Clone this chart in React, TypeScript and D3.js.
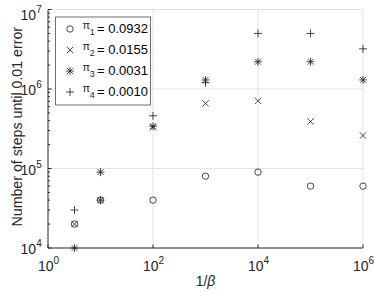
import React, { useEffect, useRef } from "react";
import * as d3 from "d3";

// 1/beta positions of the seven runs
const invBeta = [3.2, 10, 100, 1000, 10000, 100000, 1000000];

// number of steps until 0.01 error, one array per pi value
const steps1 = [2e4, 4e4, 4e4, 8e4, 9e4, 6e4, 6e4];
const steps2 = [2e4, 4e4, 3.3e5, 6.6e5, 7.1e5, 3.9e5, 2.6e5];
const steps3 = [1e4, 9e4, 3.4e5, 1.3e6, 2.2e6, 2.2e6, 1.3e6];
const steps4 = [3e4, 4e4, 4.6e5, 1.2e6, 5e6, 5e6, 3.2e6];

const piIndex = ["1", "2", "3", "4"];
const piValues = ["0.0932", "0.0155", "0.0031", "0.0010"];
const markers = ["circle", "cross", "star", "plus"];

const xTicks = [1, 1e2, 1e4, 1e6];
const xTickExp = ["0", "2", "4", "6"];
const yTicks = [1e4, 1e5, 1e6, 1e7];
const yTickExp = ["4", "5", "6", "7"];

const FONT = "'Liberation Sans', Arial, Helvetica, sans-serif";
const AXIS = "#262626";

// marker path centred on 0,0
const markerPath = (type: string) => {
  const p = d3.path();
  if (type === "circle") {
    p.arc(0, 0, 3.2, 0, Math.PI * 2);
  }
  if (type === "cross" || type === "star") {
    const s = type === "star" ? 2.9 : 3.2;
    p.moveTo(-s, -s); p.lineTo(s, s);
    p.moveTo(-s, s); p.lineTo(s, -s);
  }
  if (type === "plus" || type === "star") {
    const s = 4;
    p.moveTo(-s, 0); p.lineTo(s, 0);
    p.moveTo(0, -s); p.lineTo(0, s);
  }
  return p.toString();
};

const App = () => {
  const ref = useRef<SVGSVGElement>(null);

  useEffect(() => {
    const svg = d3.select(ref.current);
    svg.selectAll("*").remove();

    const x = d3.scaleLog().domain([1, 1e6]).range([48, 363]);
    const y = d3.scaleLog().domain([1e4, 1e7]).range([248, 9.5]);
    const [x0, x1] = x.range();
    const [y0, y1] = y.range();

    // grid
    const grid = svg.append("g").attr("stroke", "#e3e3e3").attr("stroke-width", 1);
    xTicks.slice(1).forEach((t) => {
      grid.append("line").attr("x1", x(t)).attr("x2", x(t)).attr("y1", y0).attr("y2", y1);
    });
    yTicks.slice(1).forEach((t) => {
      grid.append("line").attr("x1", x0).attr("x2", x1).attr("y1", y(t)).attr("y2", y(t));
    });

    // axes lines and ticks
    const ax = svg.append("g").attr("stroke", AXIS).attr("stroke-width", 1);
    ax.append("line").attr("x1", x0).attr("x2", x0).attr("y1", y0).attr("y2", y1);
    ax.append("line").attr("x1", x0).attr("x2", x1).attr("y1", y0).attr("y2", y0);
    xTicks.forEach((t) => {
      ax.append("line").attr("x1", x(t)).attr("x2", x(t)).attr("y1", y0).attr("y2", y0 - 3.5);
    });
    y.ticks().forEach((t) => {
      const major = yTicks.includes(t);
      ax.append("line").attr("x1", x0).attr("x2", x0 + (major ? 3.5 : 2)).attr("y1", y(t)).attr("y2", y(t));
    });

    // tick labels
    xTicks.forEach((t, i) => {
      const tx = svg.append("text")
        .attr("x", x(t) - 10)
        .attr("y", 270.5)
        .attr("font-family", FONT)
        .attr("font-size", 14)
        .attr("fill", AXIS);
      tx.append("tspan").text("10");
      tx.append("tspan").attr("font-size", 10).attr("dy", -7).text(xTickExp[i]);
    });
    yTicks.forEach((t, i) => {
      const cy = Math.max(y(t) + 1, 14.5);
      const tx = svg.append("text")
        .attr("x", 41.7)
        .attr("y", cy + 5)
        .attr("text-anchor", "end")
        .attr("font-family", FONT)
        .attr("font-size", 14)
        .attr("fill", AXIS);
      tx.append("tspan").text("10");
      tx.append("tspan").attr("font-size", 10).attr("dy", -7).text(yTickExp[i]);
    });

    // axis titles
    const xl = svg.append("text")
      .attr("x", (x0 + x1) / 2)
      .attr("y", 286)
      .attr("text-anchor", "middle")
      .attr("font-family", FONT)
      .attr("font-size", 14)
      .attr("fill", AXIS);
    xl.append("tspan").text("1/");
    xl.append("tspan").attr("font-style", "italic").text("β");

    svg.append("text")
      .attr("transform", `translate(21.5,${(y0 + y1) / 2 - 2}) rotate(-90)`)
      .attr("text-anchor", "middle")
      .attr("font-family", FONT)
      .attr("font-size", 14.2)
      .attr("fill", AXIS)
      .text("Number of steps until 0.01 error");

    // data points
    const series = [steps1, steps2, steps3, steps4];
    series.forEach((vals, si) => {
      svg.append("g")
        .selectAll("path")
        .data(vals)
        .enter()
        .append("path")
        .attr("transform", (d, i) => `translate(${x(invBeta[i])},${y(d)})`)
        .attr("d", markerPath(markers[si]))
        .attr("fill", "none")
        .attr("stroke", "#1a1a1a")
        .attr("stroke-width", 0.8);
    });

    // legend
    const lg = svg.append("g");
    lg.append("rect")
      .attr("x", 55.5).attr("y", 17)
      .attr("width", 95).attr("height", 88)
      .attr("fill", "#fff")
      .attr("stroke", "#6e6e6e")
      .attr("stroke-width", 1);
    piValues.forEach((v, i) => {
      const ry = 29 + i * 21;
      lg.append("path")
        .attr("transform", `translate(70,${ry})`)
        .attr("d", markerPath(markers[i]))
        .attr("fill", "none")
        .attr("stroke", "#1a1a1a")
        .attr("stroke-width", 0.8);
      lg.append("text")
        .attr("x", 82.5).attr("y", ry - 0.5)
        .attr("font-family", FONT).attr("font-size", 11).attr("fill", AXIS)
        .text("π");
      lg.append("text")
        .attr("x", 89.8).attr("y", ry + 6)
        .attr("font-family", FONT).attr("font-size", 9).attr("fill", AXIS)
        .text(piIndex[i]);
      lg.append("text")
        .attr("x", 97).attr("y", ry + 3.5)
        .attr("font-family", FONT).attr("font-size", 13).attr("fill", "#000")
        .text("= " + v);
    });
  }, []);

  return (
    <svg
      ref={ref}
      width={374}
      height={293}
      style={{ position: "fixed", left: 0, top: 0, background: "#fff" }}
    ></svg>
  );
};

export default App;
